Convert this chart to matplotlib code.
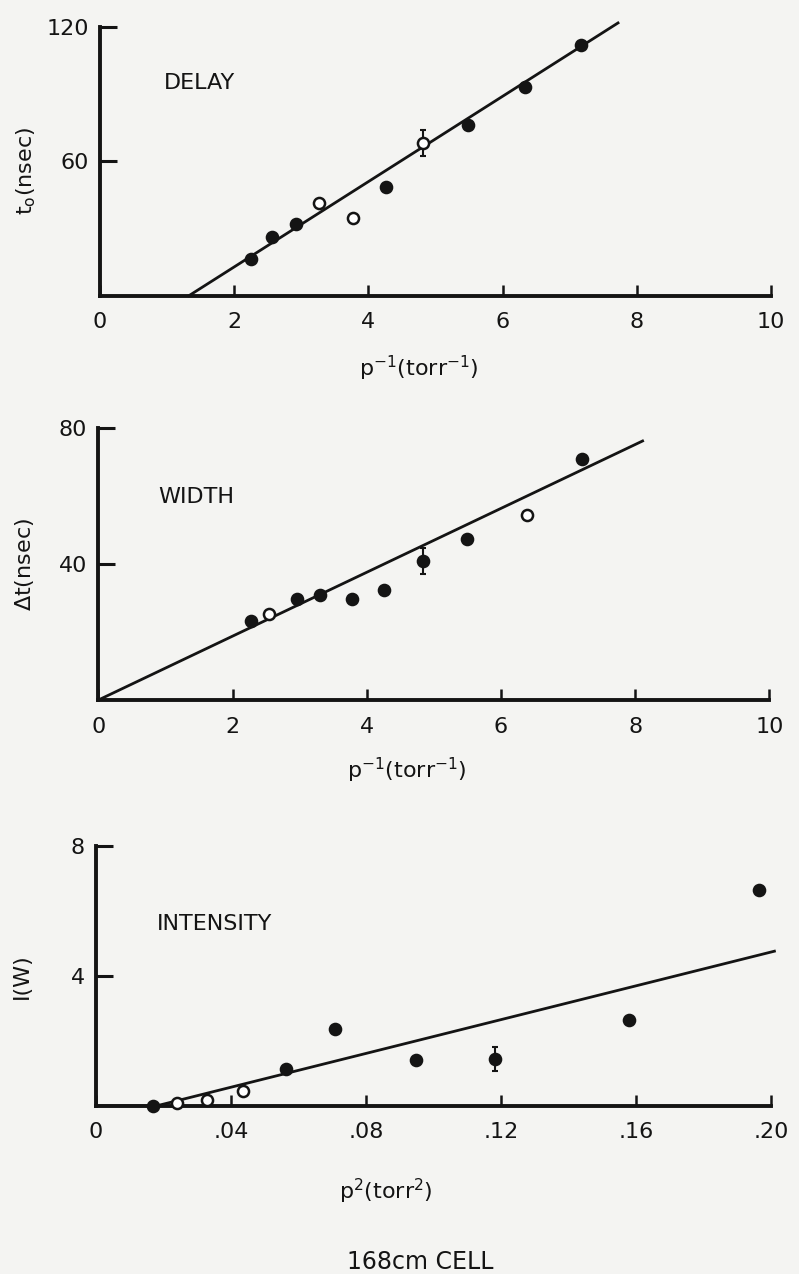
import numpy as np
import matplotlib
matplotlib.use('Agg')
import matplotlib.pyplot as plt

# panel 1: delay
delay_x = [2.25, 2.57, 2.92, 3.27, 3.77, 4.27, 4.82, 5.48, 6.34, 7.17]
delay_y = [16.2, 26.3, 31.8, 41.1, 34.7, 48.5, 68.1, 76.3, 93.3, 111.9]
delay_filled = [1, 1, 1, 0, 0, 1, 0, 1, 1, 1]
delay_err_x, delay_err_y, delay_err = [4.82], [68.1], [5.7]
delay_fit_x = [1.33, 7.72]
delay_fit_y = [0.0, 121.7]

# panel 2: width
width_x = [2.27, 2.55, 2.96, 3.30, 3.78, 4.25, 4.84, 5.50, 6.39, 7.21]
width_y = [23.2, 25.4, 29.6, 30.8, 29.7, 32.5, 40.9, 47.4, 54.3, 70.9]
width_filled = [1, 0, 1, 1, 1, 1, 1, 1, 0, 1]
width_err_x, width_err_y, width_err = [4.84], [40.9], [3.8]
width_fit_x = [0.0, 8.11]
width_fit_y = [0.0, 76.2]

# panel 3: intensity
inten_x = [0.0168, 0.024, 0.033, 0.0437, 0.0562, 0.0707, 0.0948, 0.1183, 0.158, 0.1965]
inten_y = [0.0, 0.1, 0.17, 0.47, 1.13, 2.36, 1.42, 1.44, 2.63, 6.65]
inten_filled = [1, 0, 0, 0, 1, 1, 1, 1, 1, 1]
inten_err_x, inten_err_y, inten_err = [0.1183], [1.44], [0.37]
inten_fit_x = [0.0, 0.018, 0.201]
inten_fit_y = [0.0, 0.0, 4.76]

ink = '#141414'
bg = '#f4f4f2'

plt.rcParams['font.family'] = 'DejaVu Sans'

fig = plt.figure(figsize=(7.99, 12.74), dpi=100, facecolor=bg)


def panel(rect, xs, ys, filled, ex, ey, ee, fx, fy, xlim, ylim, xticks, xticklabels,
          yticks, title, tx, ty, ylabel, xlabel, ylab_y, xlab_pos):
    ax = fig.add_axes(rect)
    ax.set_facecolor(bg)
    ax.plot(fx, fy, color=ink, lw=2.0, clip_on=False)
    for x, y, f in zip(xs, ys, filled):
        ax.plot(x, y, 'o', ms=8, mec=ink, mew=1.8,
                mfc=ink if f else 'white', zorder=3, clip_on=False)
    ax.errorbar(ex, ey, yerr=ee, fmt='none', ecolor=ink, elinewidth=1.5,
                capsize=2.5, capthick=1.5, zorder=2)
    ax.set_xlim(*xlim)
    ax.set_ylim(*ylim)
    ax.set_xticks(xticks)
    ax.set_xticklabels(xticklabels)
    ax.set_yticks(yticks)
    for s in ['top', 'right']:
        ax.spines[s].set_visible(False)
    for s in ['left', 'bottom']:
        ax.spines[s].set_linewidth(2.8)
        ax.spines[s].set_color(ink)
    ax.tick_params(axis='x', direction='in', length=8, width=1.8, colors=ink,
                   labelsize=16, pad=12)
    ax.tick_params(axis='y', direction='in', length=12, width=2.2, colors=ink,
                   labelsize=16, pad=8)
    ax.text(tx, ty, title, fontsize=16, color=ink)
    ax.text(-0.11, ylab_y, ylabel, transform=ax.transAxes, rotation=90,
            fontsize=16, color=ink, ha='center', va='center')
    ax.text(xlab_pos[0], xlab_pos[1], xlabel, transform=ax.transAxes,
            fontsize=16, color=ink, ha='center', va='center')
    return ax


panel([0.125, 0.768, 0.84, 0.211], delay_x, delay_y, delay_filled,
      delay_err_x, delay_err_y, delay_err, delay_fit_x, delay_fit_y,
      (0, 10), (0, 120), [0, 2, 4, 6, 8, 10], ['0', '2', '4', '6', '8', '10'],
      [60, 120], 'DELAY', 0.95, 92, r'$\mathregular{t_o}$(nsec)',
      r'p$^{-1}$(torr$^{-1}$)', 0.465, (0.475, -0.27))

panel([0.123, 0.4505, 0.84, 0.2135], width_x, width_y, width_filled,
      width_err_x, width_err_y, width_err, width_fit_x, width_fit_y,
      (0, 10), (0, 80), [0, 2, 4, 6, 8, 10], ['0', '2', '4', '6', '8', '10'],
      [40, 80], 'WIDTH', 0.9, 58, r'$\Delta$t(nsec)',
      r'p$^{-1}$(torr$^{-1}$)', 0.5, (0.46, -0.26))

ax3 = panel([0.12, 0.132, 0.845, 0.204], inten_x, inten_y, inten_filled,
            inten_err_x, inten_err_y, inten_err, inten_fit_x, inten_fit_y,
            (0, 0.2), (0, 8), [0, 0.04, 0.08, 0.12, 0.16, 0.20],
            ['0', '.04', '.08', '.12', '.16', '.20'],
            [4, 8], 'INTENSITY', 0.018, 5.4, 'I(W)',
            r'p$^2$(torr$^2$)', 0.5, (0.43, -0.33))
ax3.text(0.48, -0.6, '168cm CELL', transform=ax3.transAxes, fontsize=17,
         color=ink, ha='center', va='center')

fig.savefig('out.png', dpi=100, facecolor=bg)
